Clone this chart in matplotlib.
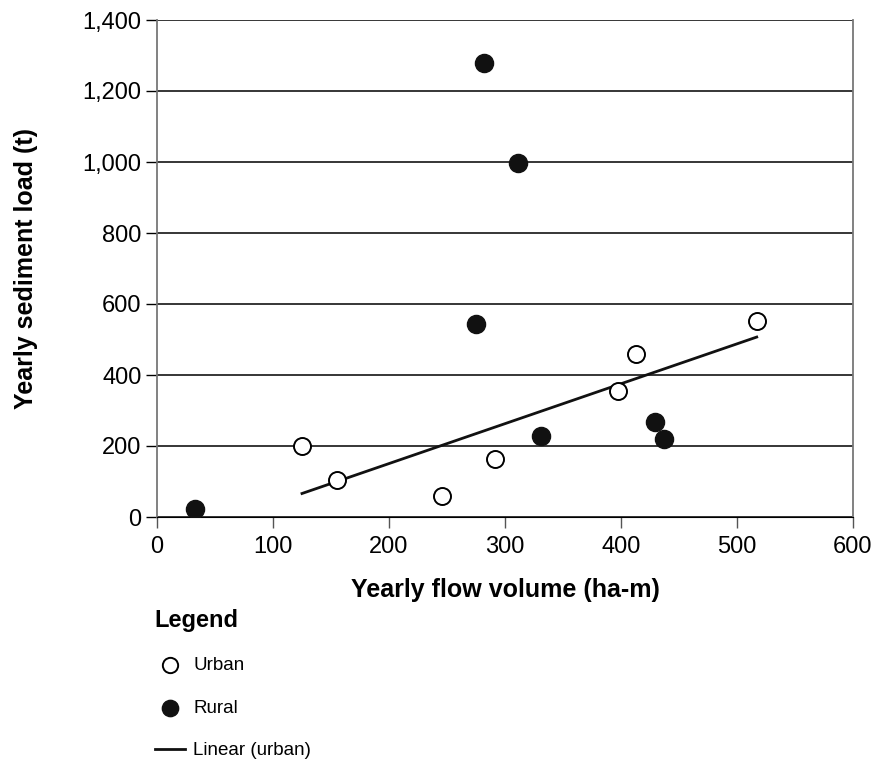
import numpy as np
import matplotlib.pyplot as plt

plt.rcParams['font.family'] = ['Liberation Sans', 'DejaVu Sans']

# values
urban_x = [125, 155, 246, 291, 397, 413, 517]
urban_y = [200, 104, 60, 163, 354, 458, 551]
rural_x = [33, 282, 311, 275, 331, 429, 437]
rural_y = [23, 1279, 997, 544, 227, 267, 220]

yticks = [0, 200, 400, 600, 800, 1000, 1200, 1400]
xticks = [0, 100, 200, 300, 400, 500, 600]

fig = plt.figure(figsize=(8.76, 7.61), dpi=100)
ax = fig.add_axes([157/876, 1-517/761, (853-157)/876, (517-20)/761])

for y in yticks:
    ax.axhline(y, color='black', lw=1.1, zorder=1)

u = ax.scatter(urban_x, urban_y, s=150, facecolor='white', edgecolor='black',
               linewidth=1.4, zorder=3, label='Urban')
r = ax.scatter(rural_x, rural_y, s=170, facecolor='#111111', edgecolor='#111111',
               zorder=3, label='Rural')

# linear trend of the urban points
k, b = np.polyfit(urban_x, urban_y, 1)
xs = np.array([min(urban_x), max(urban_x)])
ln, = ax.plot(xs, k*xs + b, color='#111111', lw=2, zorder=2, label='Linear (urban)')

ax.set_xlim(0, 600)
ax.set_ylim(0, 1400)
ax.set_xticks(xticks)
ax.set_yticks(yticks)
ax.set_yticklabels([f'{v:,}' for v in yticks])
ax.tick_params(axis='both', labelsize=17, length=8, width=1, color='#555555')
ax.tick_params(axis='x', pad=6)
ax.tick_params(axis='y', color='black', pad=3)
for side in ['left', 'right']:
    ax.spines[side].set_color('#777777')
    ax.spines[side].set_linewidth(1.3)
ax.spines['top'].set_visible(False)
ax.spines['bottom'].set_color('black')

ax.set_xlabel('Yearly flow volume (ha-m)', fontsize=18, fontweight='bold', labelpad=14)
ax.set_ylabel('Yearly sediment load (t)', fontsize=18, fontweight='bold', labelpad=32)

leg = fig.legend(handles=[u, r, ln], loc='upper left',
                 bbox_to_anchor=(138/876, 1-592/761), frameon=False,
                 title='Legend', title_fontproperties={'weight': 'bold', 'size': 17},
                 alignment='left', fontsize=13.5, labelspacing=1.35,
                 handlelength=1.6, handletextpad=0.45, markerscale=0.9)

fig.savefig('out.png', dpi=100)
